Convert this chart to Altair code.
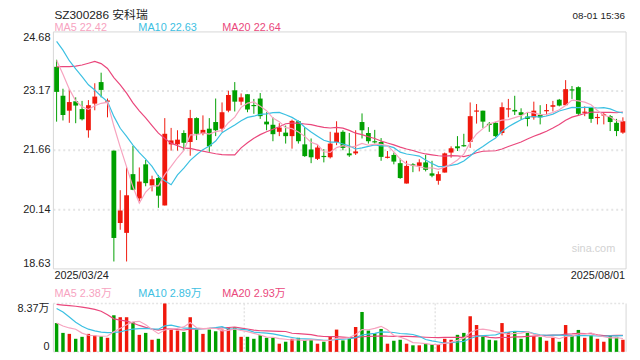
import altair as alt
import pandas as pd

# ---------------- data ----------------
# closes / volumes (万) of the 19 sessions before 2025/03/24, used only for the moving averages
pre_closes = [22.4, 23.0, 22.5, 21.9, 21.9, 22.1, 24.3, 25.4, 24.1, 23.8,
              24.8, 25.6, 24.9, 24.4, 24.9, 24.36, 24.79, 24.30, 23.20]
pre_volumes = [5.4, 5.0, 4.4, 5.7, 6.4, 7.1, 9.2, 14.5, 20.8, 10.3,
               9.4, 11.9, 11.2, 9.8, 8.0, 5.8, 4.8, 3.4, 5.9]

opens = [23.79, 23.05, 22.67, 22.91, 22.71, 22.17, 22.85, 23.40, 22.90, 21.65,
         19.80, 19.55, 21.05, 20.43, 21.30, 20.76, 20.95, 20.25, 21.81, 21.81,
         22.10, 21.87, 22.48, 22.08, 22.21, 22.38, 22.21, 22.67, 23.19, 22.90,
         23.09, 22.81, 22.98, 22.39, 22.31, 22.13, 22.11, 22.02, 22.40, 21.81,
         21.68, 21.44, 21.51, 21.48, 21.87, 22.13, 21.58, 21.58, 22.38, 22.10,
         21.89, 21.87, 21.47, 21.54, 21.33, 20.81, 21.29, 21.26, 21.35, 21.07,
         20.88, 21.09, 21.60, 21.76, 21.79, 21.87, 22.65, 22.67, 22.33, 22.36,
         22.10, 22.71, 22.69, 22.63, 22.52, 22.50, 22.56, 22.66, 22.77, 22.95,
         22.81, 23.21, 23.27, 22.62, 22.76, 22.49, 22.55, 22.53, 22.36, 22.11]
closes = [23.15, 22.56, 22.89, 22.80, 22.45, 22.81, 23.03, 23.20, 22.93, 19.42,
          20.12, 20.51, 20.65, 20.86, 20.82, 20.92, 20.50, 22.08, 21.91, 21.93,
          21.85, 22.48, 22.08, 22.18, 21.76, 22.17, 22.63, 23.07, 22.90, 23.01,
          22.70, 22.79, 22.53, 22.32, 22.07, 22.24, 22.02, 22.41, 21.89, 21.51,
          21.48, 21.73, 21.49, 21.83, 22.11, 21.72, 21.53, 21.63, 22.17, 21.89,
          21.86, 21.49, 21.49, 21.37, 20.95, 21.26, 21.28, 21.35, 21.16, 21.01,
          21.05, 21.58, 21.71, 21.71, 21.76, 22.53, 22.67, 22.39, 22.31, 22.02,
          22.76, 22.72, 22.65, 22.56, 22.46, 22.67, 22.50, 22.68, 22.81, 22.80,
          23.22, 23.19, 22.59, 22.64, 22.46, 22.50, 22.57, 22.38, 22.15, 22.40]
highs = [23.97, 23.23, 23.22, 23.01, 22.92, 22.94, 23.37, 23.64, 22.98, 21.65,
         20.64, 21.22, 21.77, 21.22, 21.41, 21.01, 21.03, 22.48, 22.23, 22.17,
         22.17, 22.69, 22.50, 22.55, 22.48, 22.98, 22.88, 23.18, 23.40, 23.11,
         23.09, 22.97, 23.12, 22.63, 22.50, 22.35, 22.29, 22.44, 22.42, 22.25,
         21.96, 21.79, 21.69, 22.13, 22.40, 22.17, 22.10, 22.17, 22.60, 22.25,
         22.18, 21.97, 21.64, 21.60, 21.45, 21.39, 21.33, 21.43, 21.54, 21.39,
         21.12, 21.60, 21.76, 22.02, 22.08, 22.88, 22.84, 22.67, 22.38, 22.38,
         22.88, 22.97, 23.05, 22.73, 22.61, 22.90, 22.81, 22.84, 22.92, 22.97,
         23.45, 23.30, 23.29, 22.78, 22.76, 22.59, 22.61, 22.56, 22.46, 22.50]
lows = [22.39, 22.42, 22.36, 22.35, 22.42, 21.98, 22.68, 23.01, 22.50, 18.82,
        19.63, 18.82, 20.64, 20.36, 20.74, 20.61, 20.19, 20.25, 21.65, 21.65,
        21.66, 21.52, 21.92, 22.04, 21.62, 22.02, 22.13, 22.63, 22.65, 22.81,
        22.63, 22.59, 22.46, 22.17, 21.89, 22.02, 21.83, 21.70, 21.83, 21.49,
        21.33, 21.41, 21.35, 21.45, 21.79, 21.66, 21.49, 21.54, 21.96, 21.83,
        21.83, 21.39, 21.45, 21.30, 20.93, 20.81, 21.10, 21.12, 21.12, 20.97,
        20.78, 21.09, 21.47, 21.64, 21.75, 21.72, 22.34, 22.23, 22.13, 22.00,
        22.04, 22.50, 22.56, 22.44, 22.27, 22.44, 22.32, 22.55, 22.65, 22.78,
        22.81, 22.97, 22.56, 22.53, 22.36, 22.32, 22.32, 22.15, 22.02, 22.08]
volumes = [4.98, 3.28, 3.11, 2.26, 2.60, 3.11, 2.83, 2.71, 2.43, 6.33,
           5.99, 5.99, 5.15, 2.94, 3.28, 2.09, 2.26, 8.37, 3.85, 3.68,
           3.45, 5.99, 3.85, 3.11, 3.85, 3.56, 3.85, 4.24, 4.24, 2.60,
           2.60, 2.26, 2.88, 2.43, 2.43, 1.41, 1.75, 2.26, 2.43, 2.04,
           2.04, 1.41, 1.75, 2.60, 3.85, 1.98, 2.26, 4.30, 6.90, 3.68,
           3.22, 3.96, 1.41, 1.92, 2.09, 1.41, 1.13, 1.13, 1.41, 1.30,
           1.30, 2.26, 2.09, 2.94, 3.28, 6.16, 4.64, 2.66, 2.09, 1.98,
           4.98, 3.39, 3.56, 2.26, 3.28, 2.71, 2.54, 1.92, 2.43, 1.75,
           4.64, 2.83, 3.79, 2.43, 2.83, 2.26, 1.75, 2.83, 2.60, 2.09]

price_ticks = [24.68, 23.17, 21.66, 20.14, 18.63]
grid_prices = [23.17, 21.66, 20.14]
vol_ticks = ["8.37万", "0"]
title_text = "SZ300286 安科瑞"
time_text = "08-01 15:36"
date_labels = ["2025/03/24", "2025/08/01"]
ma_labels = ["MA5 22.42", "MA10 22.63", "MA20 22.64"]
vol_ma_labels = ["MA5 2.38万", "MA10 2.89万", "MA20 2.93万"]

# ---------------- styles ----------------
RED, GREEN = "#f0180c", "#00a000"
C5, C10, C20 = "#f7a3bf", "#3cc0e2", "#ea477c"
FONT = "Liberation Sans, Arial, 'Noto Sans CJK SC', sans-serif"
W, H = 580, 325
PH = 240          # price panel height
VT, VB = 275, 324  # volume panel top / bottom

n = len(closes)
npre = len(pre_closes)
df = pd.DataFrame({
    "i": list(range(-npre, n)),
    "close": pre_closes + closes,
    "vol": pre_volumes + volumes,
    "open": [None] * npre + opens,
    "high": [None] * npre + highs,
    "low": [None] * npre + lows,
})
df["x"] = df["i"] + 0.5
df["xl"] = df["x"] - 0.38
df["xr"] = df["x"] + 0.38
df["vl"] = df["x"] - 0.27
df["vr"] = df["x"] + 0.27
df["dir"] = ["up" if (o is not None and c >= o) else "down" for o, c in zip(df["open"], df["close"])]
top = df[["open", "close"]].max(axis=1)
bot = df[["open", "close"]].min(axis=1)
mid = (top + bot) / 2
small = (top - bot) < 0.03
df["btop"] = top.where(~small, mid + 0.015)
df["bbot"] = bot.where(~small, mid - 0.015)
vis = df[df["i"] >= 0].copy()

xs = alt.Scale(domain=[0, n], nice=False, zero=False)
ps = alt.Scale(domain=[price_ticks[-1], price_ticks[0]], range=[PH, 0], nice=False, zero=False)
vs = alt.Scale(domain=[0, 8.37], range=[VB, VT], nice=False, zero=False)
col = alt.Color("dir:N", scale=alt.Scale(domain=["up", "down"], range=[RED, GREEN]), legend=None)

one = pd.DataFrame({"a": [0]})
layers = []

def hline(y, x1, x2, color, dash=None, width=1.0):
    kw = dict(color=color, strokeWidth=width)
    if dash:
        kw["strokeDash"] = dash
    return alt.Chart(one).mark_rule(**kw).encode(x=alt.value(x1), x2=alt.value(x2), y=alt.value(y))

def vline(x, y1, y2, color, dash=None, width=1.0):
    kw = dict(color=color, strokeWidth=width)
    if dash:
        kw["strokeDash"] = dash
    return alt.Chart(one).mark_rule(**kw).encode(x=alt.value(x), y=alt.value(y1), y2=alt.value(y2))

def label(text, x, y, color="#222", size=11, align="left", baseline="middle"):
    return alt.Chart(one).mark_text(text=text, align=align, baseline=baseline, fontSize=size,
                                    color=color, font=FONT).encode(x=alt.value(x), y=alt.value(y))

BORDER = "#d6d6d6"
GRID = "#e4e4e4"

# price panel grid + border
grid = alt.Chart(pd.DataFrame({"p": grid_prices})).mark_rule(
    color=GRID, strokeWidth=2, strokeDash=[2, 3]).encode(
    y=alt.Y("p:Q", scale=ps, axis=None), x=alt.value(0), x2=alt.value(W))
layers.append(grid)
layers += [hline(0, 0, W, BORDER), hline(PH, 0, W, BORDER),
           vline(0, 0, PH, BORDER), vline(W, 0, PH, BORDER)]

# volume panel frame
layers += [hline(VT, 0, W, GRID, [2, 2], 1.5), hline(VB, 0, W, GRID, [2, 2], 1.5),
           vline(0, VT, VB, BORDER), vline(W, VT, VB, BORDER),
           vline(W / 3, VT, VB, GRID, [2, 2], 1.5), vline(2 * W / 3, VT, VB, GRID, [2, 2], 1.5)]

# watermark
layers.append(label("sina.com", W - 11, 220, color="#d2d2d2", size=11, align="right"))

# candles
cbase = alt.Chart(vis)
wicks = cbase.mark_rule(strokeWidth=1).encode(
    x=alt.X("x:Q", scale=xs, axis=None),
    y=alt.Y("low:Q", scale=ps, axis=None), y2="high:Q", color=col)
bodies = cbase.mark_bar().encode(
    x=alt.X("xl:Q", scale=xs, axis=None), x2="xr:Q",
    y=alt.Y("btop:Q", scale=ps, axis=None), y2="bbot:Q", color=col)
vbars = cbase.mark_bar().encode(
    x=alt.X("vl:Q", scale=xs, axis=None), x2="vr:Q",
    y=alt.Y("vol:Q", scale=vs, axis=None), y2=alt.datum(0), color=col)
layers += [wicks, bodies, vbars]

# moving averages (window over the full series, then only the shown sessions are kept)
def ma_chart(field, k, color, scale):
    name = f"ma_{field}_{k}"
    return alt.Chart(df).transform_window(
        window=[alt.WindowFieldDef(op="mean", field=field, **{"as": name})],
        frame=[-(k - 1), 0], sort=[alt.SortField("i")]
    ).transform_filter("datum.i >= 0").mark_line(color=color, strokeWidth=1.2).encode(
        x=alt.X("x:Q", scale=xs, axis=None),
        y=alt.Y(f"{name}:Q", scale=scale, axis=None), order="i:Q")

for k, c in [(20, C20), (10, C10), (5, C5)]:
    layers.append(ma_chart("close", k, c, ps))
for k, c in [(20, C20), (10, C10), (5, C5)]:
    layers.append(ma_chart("vol", k, c, vs))

# price tick labels
tick_df = pd.DataFrame({"p": price_ticks, "t": [f"{v:.2f}" for v in price_ticks]})
for sub, bl in [(tick_df.iloc[[0]], "top"), (tick_df.iloc[1:4], "middle"), (tick_df.iloc[[4]], "bottom")]:
    layers.append(alt.Chart(sub).mark_text(align="right", baseline=bl, fontSize=11, color="#222", font=FONT).encode(
        x=alt.value(-3), y=alt.Y("p:Q", scale=ps, axis=None), text="t:N"))

# texts
layers += [
    label(title_text, 1, -22, size=12, baseline="top"),
    label(time_text, W - 1, -21, size=10, align="right", baseline="top"),
    label(ma_labels[0], 1, -4, C5), label(ma_labels[1], 86, -4, C10), label(ma_labels[2], 171, -4, C20),
    label(date_labels[0], 1, 247), label(date_labels[1], W - 1, 247, align="right"),
    label(vol_ma_labels[0], 1, 265, C5), label(vol_ma_labels[1], 86, 265, C10), label(vol_ma_labels[2], 171, 265, C20),
    label(vol_ticks[0], -4, VT, align="right", baseline="top"),
    label(vol_ticks[1], -4, VB, align="right", baseline="bottom"),
]

chart = alt.layer(*layers).resolve_scale(y="independent", color="shared").properties(
    width=W, height=H,
    autosize=alt.AutoSizeParams(type="none"),
    padding={"left": 46, "top": 22, "right": 6, "bottom": 5},
).configure_view(stroke=None)

chart.save("out.html", embed_options={"renderer": "svg", "actions": False})
